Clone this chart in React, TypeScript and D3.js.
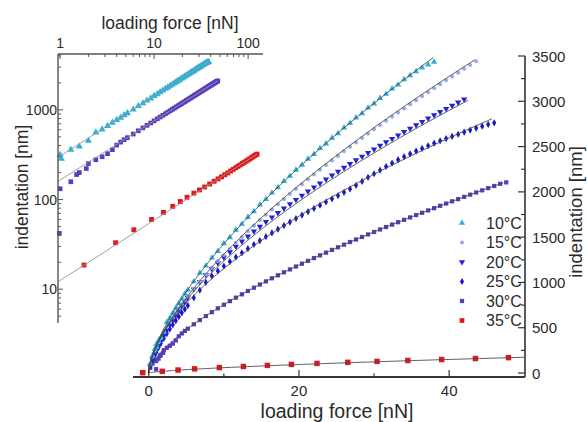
import React, { useEffect, useRef } from "react";
import * as d3 from "d3";

// loading force grid [nN] shared by the 10-30°C curves
const force = [
  0.2, 0.5, 0.8, 1.0, 1.3, 1.6, 2.0, 2.4, 2.8, 3.2, 3.6, 4.0, 4.4, 4.8, 5.2, 6.0, 6.8, 7.6, 8.4, 9.2,
  10.0, 10.8, 11.6, 12.4, 13.2, 14.0, 14.8, 15.6, 16.4, 17.2, 18.0, 18.8, 19.6, 20.4, 21.2, 22.0, 22.8,
  23.6, 24.4, 25.2, 26.0, 26.8, 27.6, 28.4, 29.2, 30.0, 30.8, 31.6, 32.4, 33.2, 34.0, 34.8, 35.6, 36.4,
  37.2, 38.0, 38.8, 39.6, 40.4, 41.2, 42.0, 42.8, 43.6, 44.4, 45.2, 46.0, 46.8, 47.6,
];

// indentation [nm]
const indent10 = [
  104, 192, 263, 316, 360, 392, 452, 560, 605, 662, 719, 772, 820, 875, 918, 1010, 1105, 1184, 1272, 1345,
  1430, 1498, 1580, 1645, 1721, 1785, 1858, 1919, 1990, 2049, 2118, 2175, 2242, 2297, 2363, 2417, 2481,
  2533, 2596, 2646, 2709, 2758, 2820, 2867, 2928, 2974, 3034, 3080, 3139, 3182, 3242, 3285, 3330, 3370,
  3405, 3435,
];
const indent15 = [
  99, 180, 246, 285, 339, 389, 450, 508, 562, 614, 664, 712, 758, 803, 846, 930, 1010, 1087, 1161, 1233,
  1303, 1371, 1437, 1501, 1565, 1627, 1688, 1747, 1806, 1863, 1920, 1976, 2031, 2085, 2139, 2192, 2244,
  2296, 2347, 2397, 2448, 2497, 2546, 2595, 2643, 2690, 2737, 2784, 2830, 2876, 2921, 2967, 3012, 3056,
  3100, 3144, 3188, 3231, 3274, 3316, 3359, 3401, 3443,
];
const indent20 = [
  80, 150, 210, 248, 300, 348, 410, 470, 528, 583, 636, 688, 738, 785, 832, 925, 1005, 1084, 1151, 1216,
  1278, 1338, 1397, 1454, 1509, 1564, 1617, 1669, 1720, 1769, 1818, 1866, 1913, 1960, 2006, 2051, 2095,
  2139, 2182, 2225, 2267, 2309, 2350, 2391, 2431, 2470, 2510, 2549, 2587, 2625, 2663, 2700, 2737, 2774,
  2811, 2847, 2883, 2918, 2953, 2988, 3023,
];
const indent25 = [
  75, 140, 195, 230, 280, 325, 382, 435, 485, 532, 578, 622, 665, 705, 745, 830, 915, 1000, 1072, 1127,
  1180, 1230, 1280, 1327, 1373, 1419, 1462, 1505, 1547, 1588, 1628, 1667, 1706, 1744, 1781, 1817, 1853,
  1888, 1923, 1958, 1995, 2032, 2072, 2115, 2160, 2200, 2240, 2280, 2318, 2355, 2388, 2420, 2450, 2480,
  2508, 2537, 2563, 2588, 2612, 2636, 2659, 2682, 2704, 2725, 2745, 2762,
];
const indent30 = [
  57, 104, 142, 132, 158, 200, 252, 278, 300, 325, 360, 405, 437, 465, 490, 538, 585, 629, 672, 714,
  754, 794, 832, 869, 906, 942, 977, 1012, 1046, 1079, 1112, 1144, 1176, 1207, 1238, 1269, 1299, 1329,
  1359, 1388, 1417, 1446, 1474, 1502, 1530, 1557, 1585, 1612, 1639, 1665, 1691, 1718, 1744, 1769, 1795,
  1820, 1846, 1871, 1896, 1920, 1945, 1969, 1993, 2017, 2041, 2065, 2089, 2105,
];
const extra10 = [[1.03, 285]];
const extra30 = [[0.98, 42], [1.5, 190], [1.9, 222]];

const forceRed = [
  -0.8, 1.8, 3.9, 6.1, 9.4, 12.6, 15.8, 19.0, 22.4, 26.5, 30.4, 34.5, 39.0, 43.5, 47.9, 52.2, 56.5, 60.8,
  65.1, 69.4, 73.7, 78.0, 82.3, 86.6, 90.9, 95.2, 99.5, 103.8, 108.1, 112.4, 116.7, 121.0, 124.5,
];
const indentRed = [
  4, 18.6, 33, 46, 60, 72, 84, 95, 106, 118, 128, 138, 149, 160, 170, 179, 189, 198, 208, 217, 226, 235,
  243, 252, 260, 268, 276, 284, 292, 300, 308, 315, 321,
];

// power-law fits  I = a * F^b
const fitA = [305, 287, 300, 300, 165, 12.5];
const fitB = [0.67, 0.66, 0.615, 0.585, 0.66, 0.673];
const fitEnd = [37.9, 43.4, 42.5, 45.7, 47.2, 50.1];
const insetFitEnd = [38, 0, 0, 0, 47, 124];

const temps = ["10°C", "15°C", "20°C", "25°C", "30°C", "35°C"];
const colors = ["#2fb0d8", "#95ade8", "#2323d6", "#1818c6", "#5a3cbf", "#e0181c"];

const xTicksMain = [0, 10, 20, 30, 40];
const xLabelsMain = [0, 20, 40];
const yLabelsMain = [0, 500, 1000, 1500, 2000, 2500, 3000, 3500];
const insetXLabels = [1, 10, 100];
const insetYLabels = [10, 100, 1000];

const FONT = "'Liberation Sans', Arial, sans-serif";
const INK = "#2a2a2a";

export default function App() {
  const svgRef = useRef<SVGSVGElement>(null);

  useEffect(() => {
    const svg = d3.select(svgRef.current);
    svg.selectAll("*").remove();

    const x = d3.scaleLinear().domain([-2.1, 50.1]).range([133, 525]);
    const y = d3.scaleLinear().domain([-44, 3500]).range([377, 56]);
    const xi = d3.scaleLog().domain([0.95, 144]).range([58, 263]);
    const yi = d3.scaleLog().domain([4.2, 4200]).range([323, 54]);

    const sym = [
      { type: d3.symbolTriangle, size: 17, rot: 0 },
      { type: d3.symbolCircle, size: 13, rot: 0 },
      { type: d3.symbolTriangle, size: 17, rot: 180 },
      { type: d3.symbolDiamond, size: 15, rot: 0 },
      { type: d3.symbolSquare, size: 18, rot: 0 },
      { type: d3.symbolSquare, size: 30, rot: 0 },
    ];
    const insetSize = [22, 0, 0, 0, 22, 24];
    const indents = [indent10, indent15, indent20, indent25, indent30];
    const extras = [extra10, [], [], [], extra30];
    const data = indents.map((arr, k) =>
      arr.map((v, i) => [force[i], v]).concat(extras[k])
    );
    data.push(forceRed.map((f, i) => [f, indentRed[i]]));

    const drawOrder = [4, 3, 2, 1, 0, 5];

    // ---- inset (log-log) ----
    const gi = svg.append("g");
    const insetSeries = [0, 4, 5];
    insetSeries.forEach((k) => {
      const pts = data[k].filter((d) => d[0] >= 0.95 && d[1] >= 4.2);
      gi.selectAll(null)
        .data(pts)
        .enter()
        .append("path")
        .attr("d", d3.symbol().type(sym[k].type).size(insetSize[k])()!)
        .attr("transform", (d) => `translate(${xi(d[0])},${yi(d[1])}) rotate(${sym[k].rot})`)
        .attr("fill", colors[k]);
    });
    insetSeries.forEach((k) => {
      const n = 120;
      const fs = d3.range(n + 1).map((i) => 0.95 * Math.pow(insetFitEnd[k] / 0.95, i / n));
      gi.append("path")
        .attr("d", d3.line<number>().x((f) => xi(f)).y((f) => yi(fitA[k] * Math.pow(f, fitB[k])))(fs)!)
        .attr("fill", "none")
        .attr("stroke", "#9a9a9a")
        .attr("stroke-width", 1);
    });

    // inset axes
    gi.append("line").attr("x1", 58).attr("x2", 58).attr("y1", 54).attr("y2", 323)
      .attr("stroke", "#555").attr("stroke-width", 1.4);
    gi.append("line").attr("x1", 58).attr("x2", 263).attr("y1", 54).attr("y2", 54)
      .attr("stroke", "#555").attr("stroke-width", 1.4);
    const xiTicks = xi.ticks().filter((t) => t >= 0.95 && t <= 144);
    xiTicks.forEach((t) => {
      const major = insetXLabels.includes(t);
      gi.append("line").attr("x1", xi(t)).attr("x2", xi(t)).attr("y1", 54).attr("y2", 54 + (major ? 5 : 3))
        .attr("stroke", "#555").attr("stroke-width", 1);
    });
    const yiTicks = yi.ticks().filter((t) => t >= 4.2 && t <= 4200);
    yiTicks.forEach((t) => {
      const major = insetYLabels.includes(t);
      gi.append("line").attr("x1", 58).attr("x2", 58 + (major ? 5 : 3)).attr("y1", yi(t)).attr("y2", yi(t))
        .attr("stroke", "#555").attr("stroke-width", 1);
    });
    gi.selectAll(null).data(insetXLabels).enter().append("text")
      .attr("x", (d) => xi(d)).attr("y", 43)
      .attr("text-anchor", "middle").attr("dominant-baseline", "central")
      .attr("font-size", 14).attr("font-family", FONT).attr("fill", INK)
      .text((d) => String(d));
    gi.selectAll(null).data(insetYLabels).enter().append("text")
      .attr("x", 57).attr("y", (d) => yi(d))
      .attr("text-anchor", "end").attr("dominant-baseline", "central")
      .attr("font-size", 14).attr("font-family", FONT).attr("fill", INK)
      .text((d) => String(d));
    gi.append("text").attr("x", 170).attr("y", 23)
      .attr("text-anchor", "middle").attr("dominant-baseline", "central")
      .attr("font-size", 17.5).attr("font-family", FONT).attr("fill", INK)
      .text("loading force [nN]");
    gi.append("text").attr("transform", "translate(22,187) rotate(-90)")
      .attr("text-anchor", "middle").attr("dominant-baseline", "central")
      .attr("font-size", 17.5).attr("font-family", FONT).attr("fill", INK)
      .text("indentation [nm]");

    // ---- main plot ----
    const g = svg.append("g");
    drawOrder.forEach((k) => {
      const pts = data[k].filter((d) => d[0] >= -2.1 && d[0] <= 50.1);
      g.selectAll(null)
        .data(pts)
        .enter()
        .append("path")
        .attr("d", d3.symbol().type(sym[k].type).size(sym[k].size)()!)
        .attr("transform", (d) => `translate(${x(d[0])},${y(d[1])}) rotate(${sym[k].rot})`)
        .attr("fill", colors[k]);
    });
    fitA.forEach((a, k) => {
      const n = 160;
      const fs = d3.range(n + 1).map((i) => fitEnd[k] * Math.pow(i / n, 2));
      g.append("path")
        .attr("d", d3.line<number>().x((f) => x(f)).y((f) => y(a * Math.pow(f, fitB[k])))(fs)!)
        .attr("fill", "none")
        .attr("stroke", "#4a4a4a")
        .attr("stroke-width", 0.9);
    });

    // bottom axis
    g.append("line").attr("x1", 133).attr("x2", 525).attr("y1", 377).attr("y2", 377)
      .attr("stroke", "#333").attr("stroke-width", 1.8);
    xTicksMain.forEach((t) => {
      const major = xLabelsMain.includes(t);
      g.append("line").attr("x1", x(t)).attr("x2", x(t)).attr("y1", 377).attr("y2", 377 - (major ? 7 : 3.5))
        .attr("stroke", "#333").attr("stroke-width", 1.2);
    });
    g.selectAll(null).data(xLabelsMain).enter().append("text")
      .attr("x", (d) => x(d)).attr("y", 390)
      .attr("text-anchor", "middle").attr("dominant-baseline", "central")
      .attr("font-size", 15).attr("font-family", FONT).attr("fill", INK)
      .text((d) => String(d));
    g.append("text").attr("x", 337).attr("y", 411)
      .attr("text-anchor", "middle").attr("dominant-baseline", "central")
      .attr("font-size", 19.5).attr("font-family", FONT).attr("fill", INK)
      .text("loading force [nN]");

    // right axis
    g.append("line").attr("x1", 525).attr("x2", 525).attr("y1", 56).attr("y2", 377)
      .attr("stroke", "#333").attr("stroke-width", 1.6);
    d3.range(0, 3501, 250).forEach((t) => {
      const major = yLabelsMain.includes(t);
      g.append("line").attr("x1", 525).attr("x2", 525 - (major ? 7 : 4)).attr("y1", y(t)).attr("y2", y(t))
        .attr("stroke", "#333").attr("stroke-width", 1.2);
    });
    g.selectAll(null).data(yLabelsMain).enter().append("text")
      .attr("x", 532).attr("y", (d) => y(d))
      .attr("text-anchor", "start").attr("dominant-baseline", "central")
      .attr("font-size", 15).attr("font-family", FONT).attr("fill", INK)
      .text((d) => String(d));
    g.append("text").attr("transform", "translate(575,212) rotate(-90)")
      .attr("text-anchor", "middle").attr("dominant-baseline", "central")
      .attr("font-size", 18.5).attr("font-family", FONT).attr("fill", INK)
      .text("indentation [nm]");

    // legend
    const lg = g.selectAll(null).data(temps).enter().append("g")
      .attr("transform", (d, i) => `translate(462,${223 + i * 19.5})`);
    lg.append("path")
      .attr("d", (d, i) => d3.symbol().type(sym[i].type).size(i === 5 ? 22 : sym[i].size)()!)
      .attr("transform", (d, i) => `rotate(${sym[i].rot})`)
      .attr("fill", (d, i) => colors[i]);
    lg.append("text").attr("x", 24).attr("y", 0)
      .attr("dominant-baseline", "central")
      .attr("font-size", 16).attr("font-family", FONT).attr("fill", INK)
      .text((d) => d);
  }, []);

  return (
    <svg
      ref={svgRef}
      width={587}
      height={422}
      style={{ position: "absolute", left: 0, top: 0, background: "#fff" }}
    />
  );
}
